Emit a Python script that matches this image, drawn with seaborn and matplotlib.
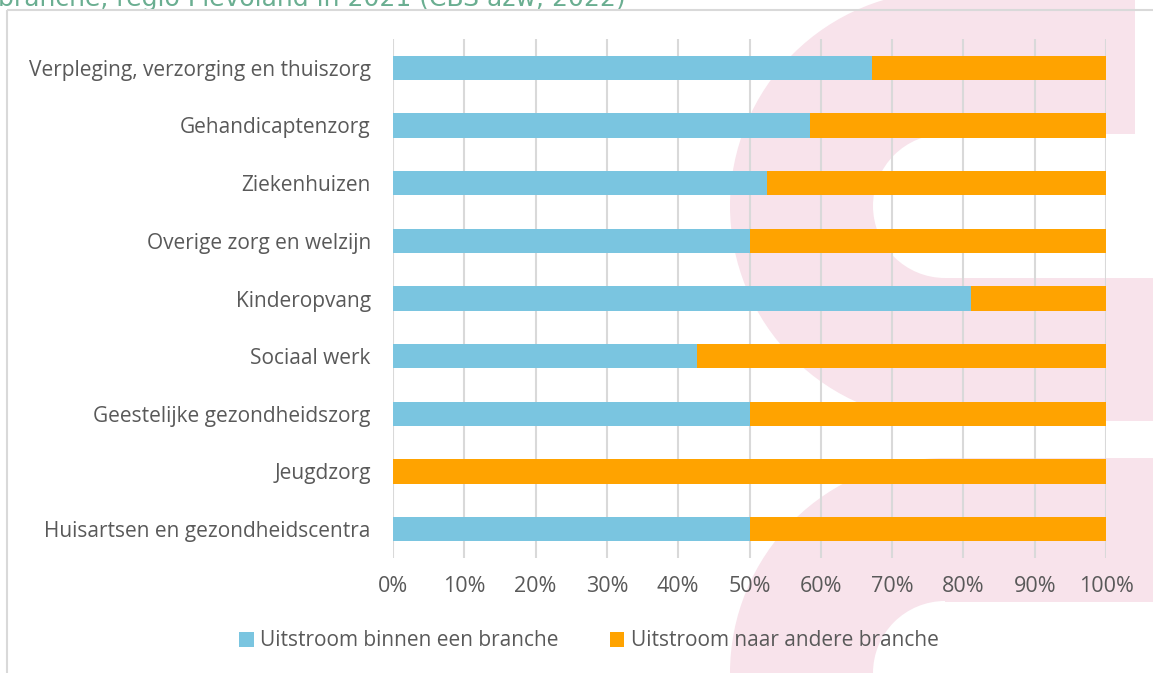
import matplotlib
matplotlib.use("Agg")
import matplotlib.pyplot as plt
from matplotlib.patches import Wedge, Rectangle, Patch
import seaborn as sns
import pandas as pd

categories = [
    "Verpleging, verzorging en thuiszorg",
    "Gehandicaptenzorg",
    "Ziekenhuizen",
    "Overige zorg en welzijn",
    "Kinderopvang",
    "Sociaal werk",
    "Geestelijke gezondheidszorg",
    "Jeugdzorg",
    "Huisartsen en gezondheidscentra",
]
binnen = [67.2, 58.5, 52.4, 50.0, 81.1, 42.7, 50.0, 0.0, 50.0]
naar = [32.8, 41.5, 47.6, 50.0, 18.9, 57.3, 50.0, 100.0, 50.0]
series_labels = ["Uitstroom binnen een branche", "Uitstroom naar andere branche"]
xticks = [0, 10, 20, 30, 40, 50, 60, 70, 80, 90, 100]
title = "branche, regio Flevoland in 2021 (CBS azw, 2022)"

BLUE = "#7AC5E0"
ORANGE = "#FFA300"
PINK = "#F8E3EB"
GRID = "#D9D9D9"
TXT = "#595959"

df = pd.DataFrame({"cat": categories, "binnen": binnen, "naar": naar})
df["totaal"] = df["binnen"] + df["naar"]

sns.set_theme(style="white")
plt.rcParams["font.family"] = ["Open Sans", "DejaVu Sans"]

W, H = 1153, 673
fig = plt.figure(figsize=(W / 100, H / 100), dpi=100)

# background decoration (watermark + frame)
bg = fig.add_axes([0, 0, 1, 1])
bg.set_xlim(0, W)
bg.set_ylim(H, 0)
bg.axis("off")
bg.add_patch(Wedge((945, 206), 215, 90, 270, width=143, facecolor=PINK, lw=0))
bg.add_patch(Rectangle((945, -20), 190, 154, facecolor=PINK, lw=0))
bg.add_patch(Rectangle((945, 278), 220, 143, facecolor=PINK, lw=0))
bg.add_patch(Wedge((945, 673), 215, 180, 270, width=143, facecolor=PINK, lw=0))
bg.add_patch(Rectangle((945, 458), 220, 144, facecolor=PINK, lw=0))
bg.add_patch(Rectangle((7, 10), 1200, 700, fill=False, edgecolor=GRID, lw=1.5, zorder=5))
bg.text(-2, 6, title, color="#6AAE91", fontsize=18, family="DejaVu Sans",
        va="baseline", ha="left")

# main chart
ax = fig.add_axes([393 / W, (H - 558) / H, 713 / W, 519 / H])
ax.patch.set_alpha(0)
sns.barplot(data=df, x="totaal", y="cat", color=ORANGE, width=0.42,
            linewidth=0, saturation=1, ax=ax, orient="h")
sns.barplot(data=df, x="binnen", y="cat", color=BLUE, width=0.42,
            linewidth=0, saturation=1, ax=ax, orient="h")
ax.set_xlim(0, 100)
ax.set_ylim(len(categories) - 0.5, -0.5)
ax.set_xticks(xticks)
ax.set_xticklabels([f"{t}%" for t in xticks])
ax.set_xlabel("")
ax.set_ylabel("")
ax.xaxis.grid(True, color=GRID, lw=1.5)
ax.yaxis.grid(False)
ax.set_axisbelow(True)
for s in ax.spines.values():
    s.set_visible(False)
ax.tick_params(axis="y", length=0, pad=16, labelsize=15, labelcolor=TXT)
ax.tick_params(axis="x", length=0, pad=13, labelsize=15.5, labelcolor=TXT)

handles = [Patch(facecolor=BLUE, lw=0), Patch(facecolor=ORANGE, lw=0)]
fig.legend(handles, series_labels, loc="center", bbox_to_anchor=(589 / W, 1 - 641 / H),
           ncol=2, frameon=False, fontsize=15, labelcolor=TXT,
           handlelength=0.7, handleheight=0.7, handletextpad=0.3, columnspacing=2.45)

fig.savefig("out.png", dpi=100)
